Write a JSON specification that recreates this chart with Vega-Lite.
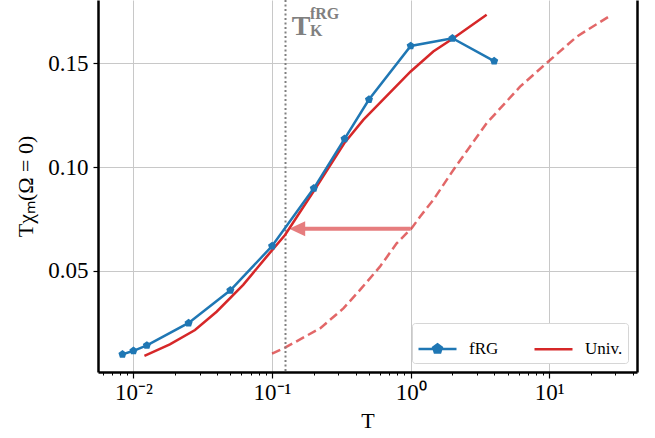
{
  "$schema": "https://vega.github.io/schema/vega-lite/v6.json",
  "width": 539,
  "height": 372,
  "autosize": {"type": "none"},
  "padding": {"left": 98, "top": 0, "right": 18, "bottom": 66},
  "background": "white",
  "config": {
    "view": {"stroke": null},
    "font": "Liberation Serif",
    "axis": {
      "domainColor": "black",
      "domainWidth": 2.5,
      "tickColor": "black",
      "tickWidth": 1.2,
      "tickSize": 5,
      "labelFont": "Liberation Serif",
      "labelFontSize": 23,
      "labelColor": "black",
      "titleFont": "Liberation Serif",
      "titleFontSize": 22,
      "titleFontWeight": "normal",
      "titleColor": "black",
      "gridColor": "#c8c8c8",
      "gridWidth": 1
    },
    "legend": {
      "orient": "bottom-right",
      "offset": 9,
      "direction": "horizontal",
      "columns": 2,
      "fillColor": "white",
      "strokeColor": "#d6d6d6",
      "cornerRadius": 3,
      "padding": 5,
      "labelFont": "Liberation Serif",
      "labelFontSize": 17,
      "labelColor": "black",
      "labelOffset": 11,
      "columnPadding": 30,
      "symbolSize": 1444,
      "symbolStrokeWidth": 2.5,
      "symbolType": "M-1,0H1"
    }
  },
  "datasets": {
    "frg": [
      {"T": 0.00833, "chi": 0.0099, "series": "fRG"},
      {"T": 0.01, "chi": 0.0116, "series": "fRG"},
      {"T": 0.0125, "chi": 0.0142, "series": "fRG"},
      {"T": 0.025, "chi": 0.025, "series": "fRG"},
      {"T": 0.05, "chi": 0.0407, "series": "fRG"},
      {"T": 0.1, "chi": 0.062, "series": "fRG"},
      {"T": 0.2, "chi": 0.0898, "series": "fRG"},
      {"T": 0.3333, "chi": 0.1136, "series": "fRG"},
      {"T": 0.5, "chi": 0.1325, "series": "fRG"},
      {"T": 1, "chi": 0.1583, "series": "fRG"},
      {"T": 2, "chi": 0.162, "series": "fRG"},
      {"T": 4, "chi": 0.151, "series": "fRG"}
    ],
    "univ": [
      {"T": 0.012, "chi": 0.0092, "series": "Univ."},
      {"T": 0.0183, "chi": 0.0147, "series": "Univ."},
      {"T": 0.0278, "chi": 0.0216, "series": "Univ."},
      {"T": 0.0398, "chi": 0.0304, "series": "Univ."},
      {"T": 0.0619, "chi": 0.0433, "series": "Univ."},
      {"T": 0.0914, "chi": 0.0569, "series": "Univ."},
      {"T": 0.124, "chi": 0.0673, "series": "Univ."},
      {"T": 0.2, "chi": 0.0885, "series": "Univ."},
      {"T": 0.336, "chi": 0.112, "series": "Univ."},
      {"T": 0.455, "chi": 0.1227, "series": "Univ."},
      {"T": 0.653, "chi": 0.1334, "series": "Univ."},
      {"T": 1.0, "chi": 0.146, "series": "Univ."},
      {"T": 1.455, "chi": 0.1556, "series": "Univ."},
      {"T": 2.03, "chi": 0.162, "series": "Univ."},
      {"T": 3.53, "chi": 0.1733, "series": "Univ."}
    ],
    "univShifted": [
      {"T": 0.1, "chi": 0.0102},
      {"T": 0.124, "chi": 0.0131},
      {"T": 0.222, "chi": 0.0224},
      {"T": 0.327, "chi": 0.032},
      {"T": 0.431, "chi": 0.0409},
      {"T": 0.6, "chi": 0.0521},
      {"T": 0.792, "chi": 0.0633},
      {"T": 1.016, "chi": 0.0706},
      {"T": 1.167, "chi": 0.0761},
      {"T": 1.455, "chi": 0.0842},
      {"T": 2.03, "chi": 0.0986},
      {"T": 3.53, "chi": 0.1211},
      {"T": 6.15, "chi": 0.1387},
      {"T": 9.84, "chi": 0.1508},
      {"T": 15.8, "chi": 0.1628},
      {"T": 28.2, "chi": 0.1733}
    ],
    "arrowShaft": [
      {"T": 1.0, "chi": 0.0703},
      {"T": 0.165, "chi": 0.0703}
    ],
    "arrowHead": [
      {"T": 0.1518, "chi": 0.0703}
    ],
    "tk": [
      {"T": 0.125}
    ],
    "labelT": [
      {"T": 0.1384, "chi": 0.1636, "text": "T"}
    ],
    "labelSup": [
      {"T": 0.1875, "chi": 0.1712, "text": "fRG"}
    ],
    "labelSub": [
      {"T": 0.1875, "chi": 0.1632, "text": "K"}
    ]
  },
  "resolve": {"axis": {"x": "independent", "y": "independent"}},
  "layer": [
    {
      "data": {"name": "univShifted"},
      "mark": {"type": "line", "stroke": "#d62728", "opacity": 0.7, "strokeWidth": 2.5, "strokeDash": [9, 4.5], "clip": true},
      "encoding": {
        "x": {
          "field": "T", "type": "quantitative",
          "scale": {"type": "log", "domain": [0.00555, 42.9], "nice": false},
          "axis": {
            "orient": "bottom",
            "values": [0.006, 0.007, 0.008, 0.009, 0.02, 0.03, 0.04, 0.05, 0.06, 0.07, 0.08, 0.09, 0.2, 0.3, 0.4, 0.5, 0.6, 0.7, 0.8, 0.9, 2, 3, 4, 5, 6, 7, 8, 9, 20, 30, 40],
            "labels": false, "grid": false, "domain": false, "tickSize": 3, "tickWidth": 1, "title": null
          }
        },
        "y": {
          "field": "chi", "type": "quantitative",
          "scale": {"domain": [0.0014, 0.1804], "nice": false, "zero": false},
          "axis": {"orient": "right", "labels": false, "ticks": false, "grid": false, "domain": true, "title": null}
        }
      }
    },
    {
      "data": {"name": "arrowShaft"},
      "mark": {"type": "line", "stroke": "#e67d7e", "strokeWidth": 4, "strokeCap": "butt"},
      "encoding": {
        "x": {"field": "T", "type": "quantitative", "axis": null},
        "y": {"field": "chi", "type": "quantitative", "axis": null}
      }
    },
    {
      "data": {"name": "arrowHead"},
      "mark": {"type": "point", "shape": "M-1,0L1,-0.94L1,0.94Z", "size": 256, "filled": true, "fill": "#e67d7e", "opacity": 1, "strokeWidth": 0},
      "encoding": {
        "x": {"field": "T", "type": "quantitative", "axis": null},
        "y": {"field": "chi", "type": "quantitative", "axis": null}
      }
    },
    {
      "data": {"name": "tk"},
      "mark": {"type": "rule", "stroke": "#808080", "strokeWidth": 2, "strokeDash": [2, 2.5]},
      "encoding": {
        "x": {"field": "T", "type": "quantitative", "axis": null}
      }
    },
    {
      "data": {"name": "univ"},
      "mark": {"type": "line", "strokeWidth": 2.5},
      "encoding": {
        "x": {"field": "T", "type": "quantitative", "axis": null},
        "y": {"field": "chi", "type": "quantitative", "axis": null},
        "color": {
          "field": "series", "type": "nominal",
          "scale": {"domain": ["fRG", "Univ."], "range": ["#1f77b4", "#d62728"]},
          "legend": {
            "title": null,
            "encode": {
              "symbols": {
                "update": {
                  "shape": {"signal": "datum.value === 'fRG' ? 'M-1,0H1M0,-0.24L0.228,-0.074L0.141,0.194L-0.141,0.194L-0.228,-0.074Z' : 'M-1,0H1'"},
                  "fill": {"signal": "datum.value === 'fRG' ? '#1f77b4' : 'transparent'"},
                  "opacity": {"value": 1}
                }
              }
            }
          }
        }
      }
    },
    {
      "data": {"name": "frg"},
      "mark": {
        "type": "line", "strokeWidth": 2.5,
        "point": {"filled": true, "shape": "M0,-1L0.951,-0.309L0.588,0.809L-0.588,0.809L-0.951,-0.309Z", "size": 72}
      },
      "encoding": {
        "x": {
          "field": "T", "type": "quantitative",
          "axis": {
            "orient": "bottom",
            "values": [0.01, 0.1, 1, 10],
            "labelExpr": "datum.value < 0.05 ? '10⁻²' : datum.value < 0.5 ? '10⁻¹' : datum.value < 5 ? '10⁰' : '10¹'",
            "grid": true,
            "tickSize": 6,
            "labelPadding": 3,
            "title": "T",
            "titlePadding": 6
          }
        },
        "y": {
          "field": "chi", "type": "quantitative",
          "axis": {
            "orient": "left",
            "values": [0.05, 0.1, 0.15],
            "format": ".2f",
            "grid": true,
            "labelPadding": 5,
            "title": "Tχₘ(Ω = 0)",
            "titlePadding": 10
          }
        },
        "color": {"field": "series", "type": "nominal"}
      }
    },
    {
      "data": {"name": "labelT"},
      "mark": {"type": "text", "align": "left", "baseline": "alphabetic", "fontSize": 28, "fontWeight": "bold", "fill": "#808080"},
      "encoding": {
        "x": {"field": "T", "type": "quantitative", "axis": null},
        "y": {"field": "chi", "type": "quantitative", "axis": null},
        "text": {"field": "text"}
      }
    },
    {
      "data": {"name": "labelSup"},
      "mark": {"type": "text", "align": "left", "baseline": "alphabetic", "fontSize": 16, "fontWeight": "bold", "fill": "#808080"},
      "encoding": {
        "x": {"field": "T", "type": "quantitative", "axis": null},
        "y": {"field": "chi", "type": "quantitative", "axis": null},
        "text": {"field": "text"}
      }
    },
    {
      "data": {"name": "labelSub"},
      "mark": {"type": "text", "align": "left", "baseline": "alphabetic", "fontSize": 16, "fontWeight": "bold", "fill": "#808080"},
      "encoding": {
        "x": {"field": "T", "type": "quantitative", "axis": null},
        "y": {"field": "chi", "type": "quantitative", "axis": null},
        "text": {"field": "text"}
      }
    }
  ]
}
